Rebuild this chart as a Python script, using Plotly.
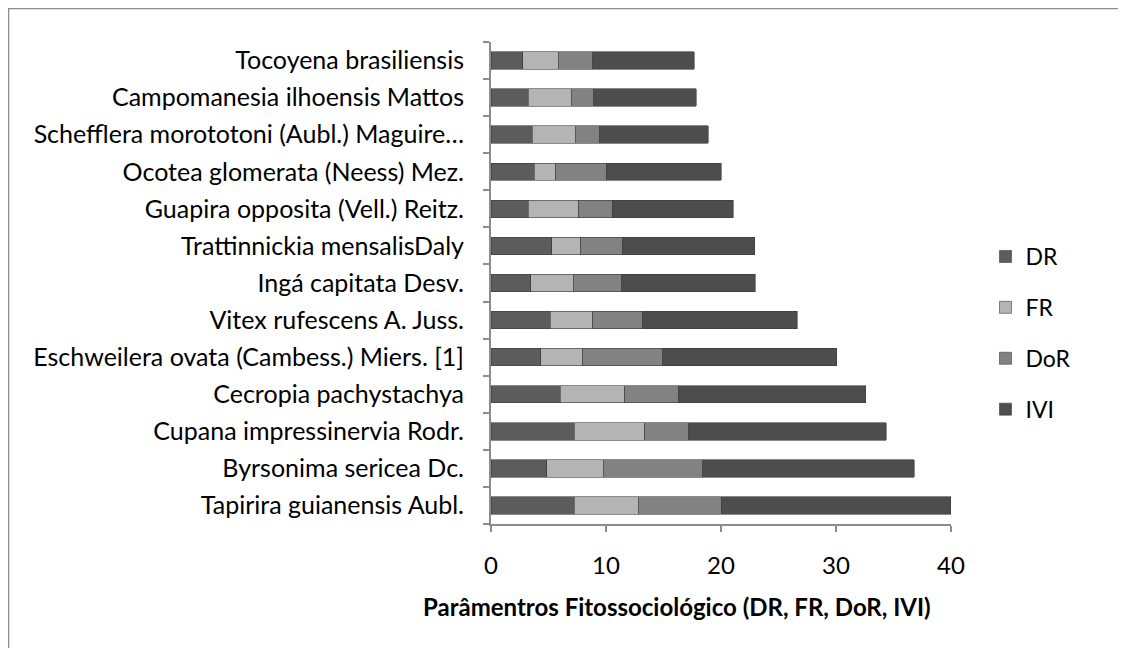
import plotly.graph_objects as go

species = [
    "Tapirira guianensis Aubl.",
    "Byrsonima sericea Dc.",
    "Cupana impressinervia Rodr.",
    "Cecropia pachystachya",
    "Eschweilera ovata (Cambess.) Miers. [1]",
    "Vitex rufescens A. Juss.",
    "Ingá capitata Desv.",
    "Trattinnickia mensalisDaly",
    "Guapira opposita (Vell.) Reitz.",
    "Ocotea glomerata (Neess) Mez.",
    "Schefflera morototoni (Aubl.) Maguire…",
    "Campomanesia ilhoensis Mattos",
    "Tocoyena brasiliensis",
]
DR = [7.24, 4.84, 7.24, 6.01, 4.31, 5.13, 3.44, 5.28, 3.24, 3.76, 3.59, 3.24, 2.74]
FR = [5.56, 4.90, 6.15, 5.60, 3.67, 3.73, 3.73, 2.54, 4.37, 1.89, 3.73, 3.73, 3.12]
DoR = [7.21, 8.66, 3.79, 4.66, 6.97, 4.35, 4.20, 3.59, 2.92, 4.35, 2.13, 1.95, 2.97]
IVI = [19.97, 18.40, 17.20, 16.30, 15.10, 13.40, 11.60, 11.53, 10.54, 10.00, 9.46, 8.94, 8.84]
tick_values = [0, 10, 20, 30, 40]
x_title = "<b>Parâmentros Fitossociológico (DR, FR, DoR, IVI)</b>"

series = [("DR", DR, "#5c5c5c"), ("FR", FR, "#b4b4b4"),
          ("DoR", DoR, "#828282"), ("IVI", IVI, "#4d4d4d")]

FONT = "Lato"
W, H = 1118, 640
L, R, T, B = 483, 175, 34, 124
PW = W - L - R
PH = H - T - B

fig = go.Figure()
for name, vals, col in series:
    fig.add_trace(go.Bar(
        y=species, x=vals, name=name, orientation="h",
        marker=dict(color=col, line=dict(color="#3c3c3c", width=0.6)),
        width=0.47, legendgroup=name,
    ))

fig.update_layout(
    width=W, height=H,
    barmode="stack",
    paper_bgcolor="white", plot_bgcolor="white",
    margin=dict(l=L, r=R, t=T, b=B, autoexpand=False),
    font=dict(family=FONT, size=24, color="#000000"),
    showlegend=True,
    legend=dict(
        x=1.075, y=(PH - 333 + 42) / PH, xanchor="left", yanchor="middle",
        traceorder="grouped", tracegroupgap=18,
        font=dict(family=FONT, size=23, color="#000000"),
        itemwidth=30,
    ),
    xaxis=dict(
        range=[0, 40], tickvals=tick_values,
        showgrid=False, zeroline=False,
        showline=True, linecolor="#8c8c8c", linewidth=2,
        ticks="outside", ticklen=6, tickcolor="#8c8c8c", tickwidth=2,
        ticklabelstandoff=13,
        tickfont=dict(family=FONT, size=24),
        automargin=False,
    ),
    yaxis=dict(
        categoryorder="array", categoryarray=species,
        showgrid=False, zeroline=False,
        showline=True, linecolor="#8c8c8c", linewidth=2,
        ticks="outside", ticklen=6, tickcolor="#8c8c8c", tickwidth=2,
        tickson="boundaries", ticklabelstandoff=20,
        tickfont=dict(family=FONT, size=25),
        range=[-0.5, 12.5],
        automargin=False,
    ),
)
fig.add_annotation(
    text=x_title, xref="paper", yref="paper",
    x=(669 - L) / PW, y=(PH + T - 598) / PH,
    xanchor="center", yanchor="middle", showarrow=False,
    font=dict(family=FONT, size=24, color="#000000"),
)
# outer chart border (top and left edges)
fig.add_shape(type="line", xref="paper", yref="paper",
              x0=-L / PW, x1=2.0, y0=(PH + T - 0.5) / PH, y1=(PH + T - 0.5) / PH,
              line=dict(color="#8c8c8c", width=1.5))
fig.add_shape(type="line", xref="paper", yref="paper",
              x0=(-L + 0.5) / PW, x1=(-L + 0.5) / PW, y0=-1.0, y1=(PH + T) / PH,
              line=dict(color="#8c8c8c", width=1.5))

fig.write_html("out.html")
